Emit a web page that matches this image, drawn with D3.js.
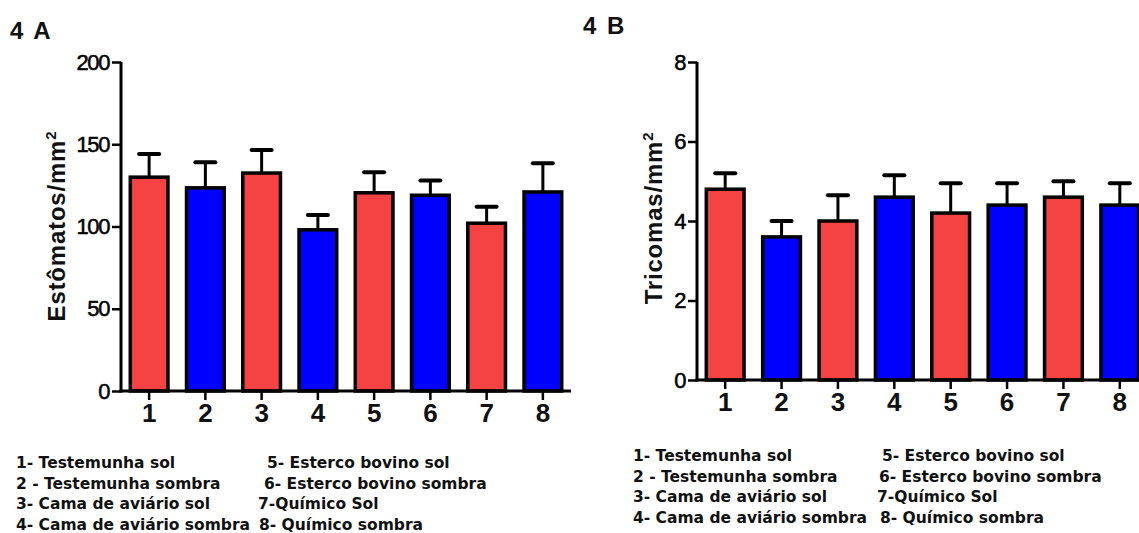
<!DOCTYPE html>
<html>
<head>
<meta charset="utf-8">
<script src="https://cdn.jsdelivr.net/npm/d3@7"></script>
<style>
  body { margin: 0; background: #fff; }
  svg { display: block; font-family: "Liberation Sans", Arial, sans-serif; }
</style>
</head>
<body>
<svg id="chart" width="1139" height="533"></svg>
<script>
const treatments = ['1', '2', '3', '4', '5', '6', '7', '8'];
const estomatosMean = [130, 123.5, 132.5, 98, 120.5, 119, 102, 121];
const estomatosErr = [14, 15.5, 14, 9, 12.5, 9, 10, 17.5];
const estomatosTicks = [0, 50, 100, 150, 200];
const tricomasMean = [4.8, 3.6, 4.0, 4.6, 4.2, 4.4, 4.6, 4.4];
const tricomasErr = [0.4, 0.4, 0.65, 0.55, 0.75, 0.55, 0.4, 0.55];
const tricomasTicks = [0, 2, 4, 6, 8];
const legendLeft = ['1- Testemunha sol', '2 - Testemunha sombra', '3- Cama de aviário sol', '4- Cama de aviário sombra'];
const legendRight = ['5- Esterco bovino sol', '6- Esterco bovino sombra', '7-Químico Sol', '8- Químico sombra'];

const red = '#f54343';
const blue = '#0000ff';

const svg = d3.select('#chart');

function drawPanel(opts) {
  const g = svg.append('g');

  const x = d3.scaleBand()
    .domain(treatments)
    .range([opts.left, opts.right])
    .paddingInner(0.33)
    .paddingOuter(0.165);

  const y = d3.scaleLinear()
    .domain([0, opts.max])
    .range([opts.bottom, opts.top]);

  // bars
  g.selectAll('.bar')
    .data(opts.mean)
    .enter()
    .append('rect')
    .attr('class', 'bar')
    .attr('x', (d, i) => x(treatments[i]))
    .attr('y', (d) => y(d))
    .attr('width', x.bandwidth())
    .attr('height', (d) => opts.bottom - y(d))
    .attr('fill', (d, i) => (i % 2 === 0 ? red : blue))
    .attr('stroke', '#000')
    .attr('stroke-width', 3.5);

  // error bars (upper only)
  const err = g.selectAll('.err')
    .data(opts.mean)
    .enter()
    .append('g')
    .attr('class', 'err');

  err.append('line')
    .attr('x1', (d, i) => x(treatments[i]) + x.bandwidth() / 2)
    .attr('x2', (d, i) => x(treatments[i]) + x.bandwidth() / 2)
    .attr('y1', (d) => y(d))
    .attr('y2', (d, i) => y(d + opts.err[i]))
    .attr('stroke', '#000')
    .attr('stroke-width', 3);

  err.append('line')
    .attr('x1', (d, i) => x(treatments[i]) + x.bandwidth() / 2 - 10)
    .attr('x2', (d, i) => x(treatments[i]) + x.bandwidth() / 2 + 10)
    .attr('y1', (d, i) => y(d + opts.err[i]))
    .attr('y2', (d, i) => y(d + opts.err[i]))
    .attr('stroke', '#000')
    .attr('stroke-width', 4)
    .attr('stroke-linecap', 'round');

  // axes
  const yAxis = g.append('g')
    .attr('transform', `translate(${opts.left},0)`)
    .call(d3.axisLeft(y).tickValues(opts.ticks).tickSize(9).tickSizeOuter(0).tickPadding(3));

  const xAxis = g.append('g')
    .attr('transform', `translate(0,${opts.bottom})`)
    .call(d3.axisBottom(x).tickSize(9).tickSizeOuter(0).tickPadding(4));

  [yAxis, xAxis].forEach((a) => {
    a.select('.domain').attr('stroke', '#000').attr('stroke-width', 3);
    a.selectAll('.tick line').attr('stroke', '#000').attr('stroke-width', 2.5);
  });
  yAxis.select('.domain').attr('d', `M0,${opts.bottom + 1.5}V${opts.top}`);
  xAxis.select('.domain').attr('d', `M${opts.left - 1.5},0H${opts.right}`);

  yAxis.selectAll('.tick text')
    .attr('font-size', 22)
    .attr('letter-spacing', -1.4)
    .attr('fill', '#000')
    .attr('stroke', '#000')
    .attr('stroke-width', 0.5);

  xAxis.selectAll('.tick text')
    .attr('font-size', 26)
    .attr('font-weight', 'bold')
    .attr('fill', '#111');

  // axis title
  const t = g.append('text')
    .attr('transform', `translate(${opts.titleX},${opts.titleY}) rotate(-90)`)
    .attr('text-anchor', 'middle')
    .attr('font-size', 24)
    .attr('font-weight', 'bold')
    .attr('letter-spacing', 0.8)
    .attr('fill', '#111');
  t.append('tspan').text(opts.title);
  t.append('tspan').attr('font-size', 15).attr('dy', -9).text('2');

  // panel label
  g.append('text')
    .attr('x', opts.labelX)
    .attr('y', opts.labelY)
    .attr('font-size', 24)
    .attr('font-weight', 'bold')
    .attr('letter-spacing', 1)
    .attr('word-spacing', 2)
    .attr('fill', '#111')
    .text(opts.label);

  // legend
  const legend = g.append('g')
    .attr('font-family', '"DejaVu Sans", sans-serif')
    .attr('font-size', 15.5)
    .attr('font-weight', 'bold')
    .attr('fill', '#111');
  legend.selectAll('.l1')
    .data(legendLeft)
    .enter()
    .append('text')
    .attr('x', opts.legX1)
    .attr('y', (d, i) => opts.legY + i * 20.5)
    .text((d) => d);
  legend.selectAll('.l2')
    .data(legendRight)
    .enter()
    .append('text')
    .attr('x', (d, i) => opts.legX2[i])
    .attr('y', (d, i) => opts.legY + i * 20.5)
    .text((d) => d);
}

drawPanel({
  left: 121, right: 571, top: 62, bottom: 391,
  max: 200, ticks: estomatosTicks,
  mean: estomatosMean, err: estomatosErr,
  title: 'Estômatos/mm', titleX: 65, titleY: 226,
  label: '4 A', labelX: 10, labelY: 39,
  legX1: 16, legX2: [267, 264, 258, 259], legY: 468
});

drawPanel({
  left: 697, right: 1148, top: 62, bottom: 380,
  max: 8, ticks: tricomasTicks,
  mean: tricomasMean, err: tricomasErr,
  title: 'Tricomas/mm', titleX: 662, titleY: 218,
  label: '4 B', labelX: 583, labelY: 34,
  legX1: 633, legX2: [882, 879, 877, 880], legY: 461
});
</script>
</body>
</html>
